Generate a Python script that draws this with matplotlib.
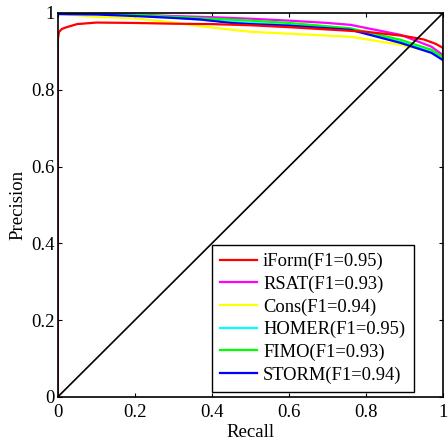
import numpy as np
import matplotlib.pyplot as plt

plt.rcParams['font.family'] = ['Liberation Serif', 'DejaVu Serif']

# precision/recall curves
iform_r = [0, 0, 0.003, 0.01, 0.02, 0.05, 0.1, 0.2, 0.3, 0.4, 0.5, 0.6, 0.7, 0.8, 0.9, 0.95, 0.98, 1.0, 1.0]
iform_p = [0, 0.93, 0.95, 0.958, 0.962, 0.971, 0.975, 0.974, 0.972, 0.971, 0.968, 0.963, 0.957, 0.951, 0.94, 0.931, 0.92, 0.909, 0.885]

rsat_r = [0, 0.1, 0.2, 0.3, 0.4, 0.5, 0.6, 0.7, 0.76, 0.89, 0.97, 1.0]
rsat_p = [1.0, 0.999, 0.996, 0.992, 0.989, 0.985, 0.980, 0.974, 0.969, 0.943, 0.912, 0.89]

cons_r = [0, 0.1, 0.2, 0.3, 0.35, 0.4, 0.5, 0.6, 0.76, 0.89, 0.97, 1.0]
cons_p = [0.998, 0.99, 0.986, 0.975, 0.968, 0.962, 0.951, 0.946, 0.938, 0.917, 0.899, 0.883]

homer_r = [0, 0.1, 0.2, 0.3, 0.4, 0.5, 0.6, 0.76, 0.89, 0.97, 1.0]
homer_p = [0.998, 0.997, 0.994, 0.988, 0.980, 0.974, 0.969, 0.958, 0.925, 0.898, 0.879]

fimo_r = [0, 0.1, 0.2, 0.3, 0.4, 0.5, 0.6, 0.76, 0.89, 0.97, 1.0]
fimo_p = [1.0, 0.999, 0.995, 0.99, 0.985, 0.980, 0.974, 0.96, 0.93, 0.904, 0.885]

storm_r = [0, 0.1, 0.2, 0.3, 0.37, 0.45, 0.5, 0.6, 0.76, 0.89, 0.97, 1.0]
storm_p = [0.997, 0.996, 0.992, 0.987, 0.983, 0.974, 0.971, 0.967, 0.956, 0.922, 0.896, 0.877]

labels = ['iForm(F1=0.95)', 'RSAT(F1=0.93)', 'Cons(F1=0.94)',
          'HOMER(F1=0.95)', 'FIMO(F1=0.93)', 'STORM(F1=0.94)']
colors = ['#ff0000', '#ff00ff', '#ffff00', '#00ffff', '#00ff00', '#0000ff']
curves = [(iform_r, iform_p), (rsat_r, rsat_p), (cons_r, cons_p),
          (homer_r, homer_p), (fimo_r, fimo_p), (storm_r, storm_p)]

fig = plt.figure(figsize=(4.48, 4.47), dpi=100)
ax = fig.add_axes([0.129, 0.112, 0.860, 0.859])

handles = {}
for i in [1, 2, 3, 4, 5, 0]:
    r, p = curves[i]
    handles[i], = ax.plot(r, p, color=colors[i], lw=1.6, label=labels[i])
ax.plot([0, 1], [0, 1], color='black', lw=1.2)

ax.set_xlim(0, 1)
ax.set_ylim(0, 1)
ticks = [0, 0.2, 0.4, 0.6, 0.8, 1]
ticklabels = ['0', '0.2', '0.4', '0.6', '0.8', '1']
ax.set_xticks(ticks)
ax.set_xticklabels(ticklabels)
ax.set_yticks(ticks)
ax.set_yticklabels(ticklabels)
ax.tick_params(direction='in', top=True, right=True, labelsize=13.5, length=3)
ax.tick_params(axis='x', pad=5)
ax.tick_params(axis='y', pad=2)
for s in ax.spines.values():
    s.set_linewidth(1.2)
ax.set_xlabel('Recall', fontsize=13.5, labelpad=2)
ax.set_ylabel('Precision', fontsize=13.5, labelpad=4)

leg = ax.legend([handles[i] for i in range(6)], labels, loc='lower left',
                bbox_to_anchor=(0.4, 0.013), borderaxespad=0,
                fontsize=13.3, frameon=True, fancybox=False, edgecolor='black',
                framealpha=1, handlelength=2.0, handletextpad=0.32,
                labelspacing=0.29, borderpad=0.45)
leg.get_frame().set_linewidth(1.0)

fig.savefig('out.png', dpi=100)
